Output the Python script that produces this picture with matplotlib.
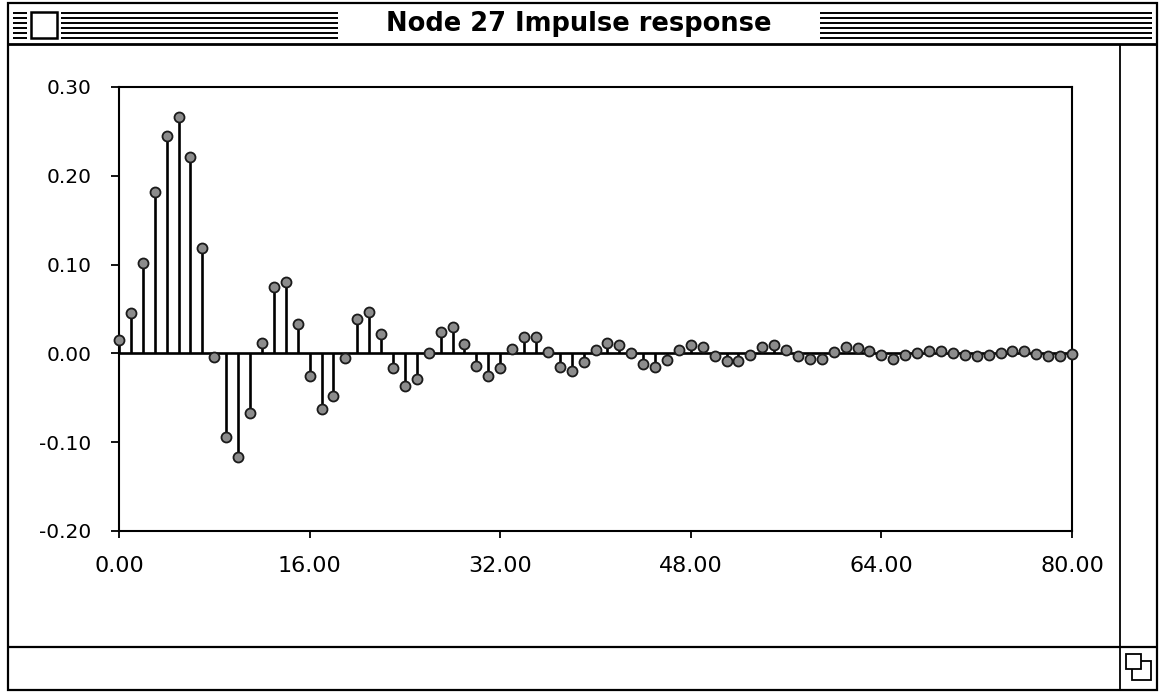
import matplotlib
matplotlib.use("Agg")
import matplotlib.pyplot as plt
from matplotlib.patches import Rectangle
from matplotlib.lines import Line2D
import numpy as np

# ---- data -------------------------------------------------------------
window_title = "Node 27 Impulse response"
sample_index = list(range(0, 81))
response = [0.015, 0.045, 0.102, 0.182, 0.245, 0.266, 0.221, 0.119, -0.004, -0.094,
            -0.117, -0.067, 0.012, 0.075, 0.080, 0.033, -0.026, -0.063, -0.048, -0.005,
            0.039, 0.047, 0.022, -0.016, -0.037, -0.029, 0.001, 0.024, 0.030, 0.011,
            -0.014, -0.025, -0.017, 0.005, 0.019, 0.018, 0.002, -0.015, -0.020, -0.010,
            0.004, 0.012, 0.010, 0.000, -0.012, -0.015, -0.007, 0.004, 0.010, 0.007,
            -0.003, -0.009, -0.009, -0.002, 0.007, 0.010, 0.004, -0.003, -0.006, -0.006,
            0.002, 0.007, 0.006, 0.003, -0.002, -0.006, -0.002, 0.001, 0.003, 0.003,
            0.000, -0.002, -0.003, -0.002, 0.001, 0.003, 0.003, -0.001, -0.003, -0.003,
            -0.001]
x_ticks = [0, 16, 32, 48, 64, 80]
x_tick_labels = ["0.00", "16.00", "32.00", "48.00", "64.00", "80.00"]
y_ticks = [-0.20, -0.10, 0.00, 0.10, 0.20, 0.30]
y_tick_labels = ["-0.20", "-0.10", "0.00", "0.10", "0.20", "0.30"]

# ---- figure -----------------------------------------------------------
W, H = 1159, 692
fig = plt.figure(figsize=(W / 100, H / 100), dpi=100)
fig.patch.set_facecolor("white")

def fx(px):
    return px / W

def fy(py):
    return 1 - py / H

def hline(x0, x1, y, lw=1.5, color="black"):
    fig.add_artist(Line2D([fx(x0), fx(x1)], [fy(y), fy(y)], color=color, lw=lw,
                          transform=fig.transFigure, solid_capstyle="butt"))

def vline(x, y0, y1, lw=1.5, color="black"):
    fig.add_artist(Line2D([fx(x), fx(x)], [fy(y0), fy(y1)], color=color, lw=lw,
                          transform=fig.transFigure, solid_capstyle="butt"))

def rect(x0, y0, x1, y1, lw=1.5, fc="none", z=1):
    fig.add_artist(Rectangle((fx(x0), fy(y1)), fx(x1) - fx(x0), fy(y0) - fy(y1),
                             transform=fig.transFigure, fill=(fc != "none"),
                             facecolor=fc if fc != "none" else "white",
                             edgecolor="black", lw=lw, zorder=z))

# window frame
rect(8, 3, 1157, 690, lw=1.6)
hline(8, 1157, 44, lw=2.0)
vline(1120, 44, 690, lw=1.3)
hline(8, 1157, 647, lw=1.6)
# title bar stripes
for sy in [13, 18, 23, 28, 33, 38]:
    hline(13, 27, sy, lw=1.4)
    hline(61, 338, sy, lw=1.4)
    hline(820, 1152, sy, lw=1.4)
rect(31, 12, 57, 38, lw=1.8, fc="white")
fig.text(fx(579), fy(24), window_title, ha="center", va="center",
         fontsize=18.5, fontweight="bold", family="DejaVu Sans")
# resize box icon
rect(1132, 661, 1151, 680, lw=1.3, fc="none", z=2)
rect(1126, 654, 1141, 669, lw=1.3, fc="white", z=3)

# ---- plot -------------------------------------------------------------
ax = fig.add_axes([fx(119), fy(531), fx(1072) - fx(119), fy(87) - fy(531)])
markerline, stemlines, baseline = ax.stem(sample_index, response, basefmt="k-")
plt.setp(stemlines, color="black", linewidth=1.9)
plt.setp(markerline, marker="o", markersize=7.2, markerfacecolor="#8c8c8c",
         markeredgecolor="#1a1a1a", markeredgewidth=1.3, clip_on=False, zorder=4)
plt.setp(baseline, color="black", linewidth=1.9, xdata=[0, 80])

ax.set_xlim(0, 80)
ax.set_ylim(-0.20, 0.30)
ax.set_xticks(x_ticks)
ax.set_xticklabels(x_tick_labels, fontsize=16, family="DejaVu Sans")
ax.set_yticks(y_ticks)
ax.set_yticklabels(y_tick_labels, fontsize=14.5, family="DejaVu Sans")
ax.tick_params(axis="x", direction="out", length=5, width=1.3, pad=13)
ax.tick_params(axis="y", direction="out", length=6, width=1.3, pad=14)
for s in ax.spines.values():
    s.set_linewidth(1.5)

fig.savefig("out.png", dpi=100)
